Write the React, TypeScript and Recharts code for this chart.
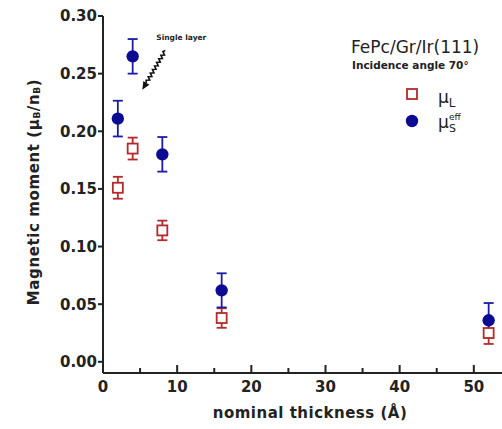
import React from "react";
import {
  ScatterChart,
  Scatter,
  XAxis,
  YAxis,
  ErrorBar,
  ReferenceLine,
  Legend,
  Label,
} from "recharts";

// ---------------------- DATA ----------------------
const thickness = [2, 4, 8, 16, 52];
const muL = [0.151, 0.185, 0.114, 0.038, 0.025];
const muLErr = [0.0095, 0.0095, 0.0085, 0.0085, 0.0095];
const muS = [0.211, 0.265, 0.18, 0.062, 0.036];
const muSErr = [0.0155, 0.015, 0.015, 0.0148, 0.015];

const xTicks = [0, 5, 10, 15, 20, 25, 30, 35, 40, 45, 50];
const yTicks = [0, 0.05, 0.1, 0.15, 0.2, 0.25, 0.3];

const RED = "#b42a2a";
const BLUE = "#0c0c92";
const BLUE_BAR = "#1c1ca6";
const FONT = "'DejaVu Sans', Arial, sans-serif";

const lData = thickness.map((t, i) => ({ x: t, y: muL[i], err: muLErr[i] }));
const sData = thickness.map((t, i) => ({ x: t, y: muS[i], err: muSErr[i] }));

const BottomTick = ({ x, y, payload }: any) => {
  const major = payload.value % 10 === 0;
  return (
    <g>
      <line x1={x} x2={x} y1={y} y2={y - (major ? 8 : 5)} stroke="#222" strokeWidth={2} />
      {major && (
        <text x={x} y={y + 19} textAnchor="middle" fontFamily={FONT} fontWeight="bold" fontSize={15} fill="#222">
          {payload.value}
        </text>
      )}
    </g>
  );
};

const TopTick = ({ x, y }: any) => (
  <line x1={x} x2={x} y1={y} y2={y + 6} stroke="#222" strokeWidth={2} />
);

const Square = ({ cx, cy }: any) => (
  <rect x={cx - 5} y={cy - 5} width={10} height={10} fill="#fff" stroke={RED} strokeWidth={1.8} />
);

const Dot = ({ cx, cy }: any) => <circle cx={cx} cy={cy} r={6.2} fill={BLUE} />;

// zigzag arrow pointing at the single-layer point
const ZigArrow = (props: any) => {
  const { x1, y1, x2, y2 } = props;
  const dx = x2 - x1;
  const dy = y2 - y1;
  const len = Math.sqrt(dx * dx + dy * dy);
  const ux = dx / len;
  const uy = dy / len;
  const px = -uy;
  const py = ux;
  const headLen = 8;
  const bodyLen = len - headLen;
  const n = 18;
  let d = `M${x1},${y1}`;
  for (let i = 1; i <= n; i++) {
    const t = (bodyLen * i) / n;
    const off = i === n ? 0 : i % 2 ? 1.5 : -1.5;
    d += ` L${x1 + ux * t + px * off},${y1 + uy * t + py * off}`;
  }
  const bx = x2 - ux * headLen;
  const by = y2 - uy * headLen;
  const head = `M${x2},${y2} L${bx + px * 3.5},${by + py * 3.5} L${bx - px * 3.5},${by - py * 3.5} Z`;
  return (
    <g>
      <text x={x1 - 9} y={y1 - 11} fontFamily={FONT} fontWeight="bold" fontSize={7.5} fill="#222">
        Single layer
      </text>
      <path d={d} fill="none" stroke="#111" strokeWidth={1.6} />
      <path d={head} fill="#111" />
    </g>
  );
};

const LegendBox = () => (
  <svg width={160} height={110} style={{ overflow: "visible" }}>
    <text x={6} y={23} fontFamily={FONT} fontSize={17} fill="#222">
      FePc/Gr/Ir(111)
    </text>
    <text x={7} y={39} fontFamily={FONT} fontWeight="bold" fontSize={10.5} fill="#222">
      Incidence angle 70°
    </text>
    <rect x={62} y={59} width={10} height={10} fill="#fff" stroke={RED} strokeWidth={1.8} />
    <text x={93} y={73} fontFamily={FONT} fontSize={17} fill="#222">
      μ
      <tspan fontSize={12} dy={4}>L</tspan>
    </text>
    <circle cx={67} cy={91} r={6.2} fill={BLUE} />
    <text x={93} y={98} fontFamily={FONT} fontSize={17} fill="#222">
      μ
    </text>
    <text x={104} y={102} fontFamily={FONT} fontSize={11} fill="#222">
      S
    </text>
    <text x={104} y={90} fontFamily={FONT} fontSize={9} fill="#222">
      eff
    </text>
  </svg>
);

export default function App() {
  return (
    <div style={{ position: "absolute", left: 0, top: 0, background: "#fff" }}>
      <ScatterChart width={502} height={429} margin={{ top: 16, right: 0, bottom: 0, left: 0 }}>
        <XAxis
          type="number"
          dataKey="x"
          domain={[0, 53.8]}
          ticks={xTicks}
          interval={0}
          allowDataOverflow
          tickSize={0}
          tickMargin={0}
          tickLine={false}
          tick={<BottomTick />}
          axisLine={{ stroke: "#222", strokeWidth: 2 }}
          height={56}
        >
          <Label
            content={() => (
              <text
                x={310}
                y={418}
                textAnchor="middle"
                fontFamily={FONT}
                fontWeight="bold"
                fontSize={15}
                letterSpacing={0.5}
                fill="#222"
              >
                nominal thickness (Å)
              </text>
            )}
          />
        </XAxis>
        <XAxis
          xAxisId="top"
          orientation="top"
          type="number"
          domain={[0, 53.8]}
          ticks={xTicks}
          interval={0}
          allowDataOverflow
          tickSize={0}
          tickMargin={0}
          tickLine={false}
          tick={<TopTick />}
          axisLine={{ stroke: "#222", strokeWidth: 2 }}
          height={0}
        />
        <YAxis
          type="number"
          dataKey="y"
          domain={[-0.0097, 0.3]}
          ticks={yTicks}
          interval={0}
          allowDataOverflow
          width={103}
          tickSize={5}
          tickMargin={1}
          tickFormatter={(v: number) => v.toFixed(2)}
          tick={{ fontFamily: FONT, fontWeight: "bold", fontSize: 15, fill: "#222" }}
          tickLine={{ stroke: "#222", strokeWidth: 2 }}
          axisLine={{ stroke: "#222", strokeWidth: 2 }}
        >
          <Label
            content={() => (
              <text
                x={34}
                y={192}
                transform="rotate(-90 34 192)"
                textAnchor="middle"
                dominantBaseline="central"
                fontFamily={FONT}
                fontWeight="bold"
                fontSize={15}
                letterSpacing={0.6}
                fill="#222"
              >
                Magnetic moment (μ
                <tspan fontSize={9} dy={3}>B</tspan>
                <tspan dy={-3}>/n</tspan>
                <tspan fontSize={9} dy={3}>B</tspan>
                <tspan dy={-3}>)</tspan>
              </text>
            )}
          />
        </YAxis>
        <Legend
          layout="vertical"
          align="center"
          verticalAlign="middle"
          wrapperStyle={{ top: 30, left: 345, width: 160, height: 110 }}
          content={() => <LegendBox />}
        />
        <ReferenceLine
          segment={[
            { x: 8.4, y: 0.27 },
            { x: 5.3, y: 0.236 },
          ]}
          ifOverflow="visible"
          shape={(p: any) => <ZigArrow {...p} />}
        />
        <Scatter name="muL" data={lData} shape={<Square />} isAnimationActive={false}>
          <ErrorBar dataKey="err" direction="y" width={5} stroke={RED} strokeWidth={1.8} />
        </Scatter>
        <Scatter name="muS" data={sData} shape={<Dot />} isAnimationActive={false}>
          <ErrorBar dataKey="err" direction="y" width={5} stroke={BLUE_BAR} strokeWidth={1.8} />
        </Scatter>
      </ScatterChart>
    </div>
  );
}
